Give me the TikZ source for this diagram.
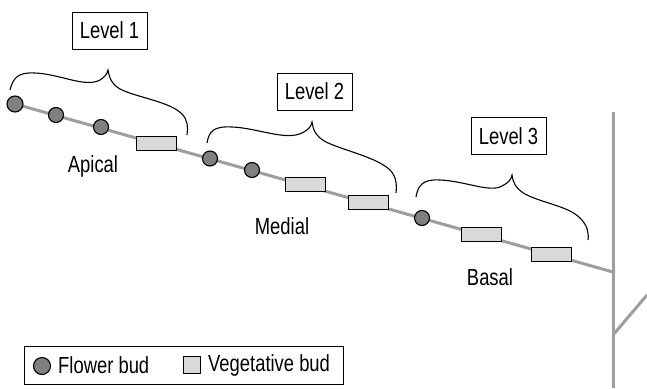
\documentclass[tikz,border=0pt]{standalone}
\usepackage{fontspec}
\setmainfont[FakeStretch=0.79]{Liberation Sans}
\definecolor{stem}{gray}{0.62}
\definecolor{flowerfill}{gray}{0.5}
\definecolor{vegfill}{gray}{0.85}
\begin{document}
\begin{tikzpicture}[x=1pt,y=-1pt,
  font=\fontsize{23.3}{26}\selectfont,
  stemline/.style={draw=stem,line width=3pt},
  flowerbud/.style={circle,draw=black,line width=1.1pt,fill=flowerfill,minimum size=15pt,inner sep=0pt},
  vegbud/.style={rectangle,draw=black,line width=1pt,fill=vegfill,minimum width=40pt,minimum height=14pt,inner sep=0pt},
  levelbox/.style={draw=black,line width=0.8pt,minimum width=75pt,minimum height=37pt,inner sep=0pt},
  bracepath/.style={draw=black,line width=1.1pt},
  legendbox/.style={draw=black,line width=0.8pt,minimum width=319pt,minimum height=38pt,inner sep=0pt}]
\useasboundingbox (0,0) rectangle (647,388);

% trunk and side branch
\coordinate (ttop) at (613,112);
\coordinate (tbot) at (613,388);
\coordinate (tjoin) at (613,272);
\coordinate (sjoin) at (613,335);
\coordinate (send) at (647,295);
\draw[stemline] (ttop) -- (tbot);
\draw[stemline] (sjoin) -- (send);

% buds along the shoot
\coordinate (f1) at (15,104);
\draw[stemline] (f1) -- (tjoin);
\node[flowerbud,minimum size=16pt] (fb1) at (15,104) {};
\node[flowerbud] (fb2) at (56,115) {};
\node[flowerbud] (fb3) at (101,127) {};
\node[vegbud] (vb1) at (156,143.5) {};
\node[flowerbud] (fb4) at (210,158.5) {};
\node[flowerbud] (fb5) at (252,170) {};
\node[vegbud] (vb2) at (305.5,184.5) {};
\node[vegbud] (vb3) at (368.5,202) {};
\node[flowerbud] (fb6) at (422,218) {};
\node[vegbud] (vb4) at (481.5,234) {};
\node[vegbud] (vb5) at (551.5,254) {};

% braces over each level
\draw[bracepath] (10,90) .. controls (13,78) and (18,72) .. (35,73)
  .. controls (60,74) and (85,88) .. (100,80) .. controls (105,77) and (107,74) .. (108,70)
  .. controls (109,76) and (111,85) .. (122,90)
  .. controls (140,98) and (170,102) .. (182,114) .. controls (188,120) and (188,128) .. (187,135);
\draw[bracepath] (207,143) .. controls (209,131) and (214,126) .. (232,127)
  .. controls (258,128) and (285,141) .. (302,133) .. controls (308,130) and (311,127) .. (312,122)
  .. controls (313,129) and (315,136) .. (326,142)
  .. controls (345,151) and (376,157) .. (390,170) .. controls (396,176) and (397,184) .. (396,193);
\draw[bracepath] (416,197) .. controls (418,185) and (423,179) .. (440,180)
  .. controls (465,181) and (490,193) .. (502,186) .. controls (508,183) and (511,180) .. (512,175)
  .. controls (513,182) and (515,188) .. (525,194)
  .. controls (542,203) and (568,206) .. (580,218) .. controls (587,225) and (589,232) .. (588,240);

% level labels
\node[levelbox] (lv1) at (109.5,30.5) {Level 1};
\node[levelbox] (lv2) at (314.5,91.5) {Level 2};
\node[levelbox] (lv3) at (508.5,136) {Level 3};

% position labels
\node (apical) at (93,166) {Apical};
\node (medial) at (282,226) {Medial};
\node (basal) at (490,277) {Basal};

% legend
\node[legendbox] (legend) at (183.5,365) {};
\node[flowerbud,minimum size=17pt] (lgf) at (42,366) {};
\node[anchor=west,inner sep=0pt] (lgftext) at (58,365) {Flower bud};
\node[rectangle,draw=black,line width=1pt,fill=vegfill,minimum size=17pt,inner sep=0pt] (lgv) at (192,365) {};
\node[anchor=west,inner sep=0pt] (lgvtext) at (208,365) {Vegetative bud};
\end{tikzpicture}
\end{document}
